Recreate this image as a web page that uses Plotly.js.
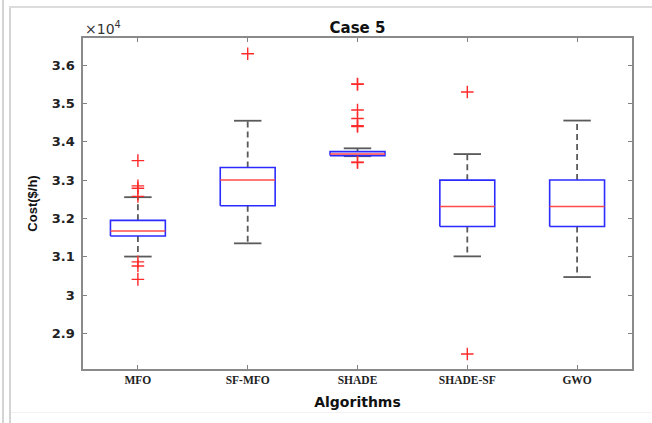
<!DOCTYPE html>
<html>
<head>
<meta charset="utf-8">
<script src="https://cdn.plot.ly/plotly-3.0.1.min.js"></script>
<style>
  html, body { margin: 0; padding: 0; background: #ffffff; }
  #wrap { position: relative; width: 652px; height: 423px; overflow: hidden; background: #ffffff; }
  #chart { position: absolute; left: 0; top: 0; width: 652px; height: 423px; }
  .fr { position: absolute; background: #d4d4d4; }
</style>
</head>
<body>
<div id="wrap">
  <div class="fr" style="left:2px;top:0;width:2px;height:423px;"></div>
  <div class="fr" style="left:9px;top:7px;width:2px;height:416px;"></div>
  <div class="fr" style="left:9px;top:6px;width:643px;height:2px;background:#dcdcdc;"></div>
  <div class="fr" style="left:11px;top:412px;width:641px;height:1px;background:#f2f2f2;"></div>
  <div id="chart"></div>
</div>
<script>
// ---- data (Cost in $/h) ----
const algorithms = ['MFO', 'SF-MFO', 'SHADE', 'SHADE-SF', 'GWO'];
const q1Values     = [31540, 32330, 33640, 31790, 31790];
const medianValues = [31670, 33005, 33680, 32310, 32310];
const q3Values     = [31950, 33330, 33745, 33000, 33005];
const lowerWhisker = [31005, 31350, 33625, 31010, 30470];
const upperWhisker = [32555, 34550, 33830, 33680, 34555];
const outliersMFO     = [33510, 32850, 32790, 32575, 30865, 30760, 30410];
const outliersSFMFO   = [36300];
const outliersSHADE   = [35500, 35510, 34830, 34610, 34400, 34420, 33470, 33460];
const outliersSHADESF = [35300, 28460];
const outliersGWO     = [];
const yTickValues = [29000, 30000, 31000, 32000, 33000, 34000, 35000, 36000];
const yTickLabels = ['2.9', '3', '3.1', '3.2', '3.3', '3.4', '3.5', '3.6'];

const outlierSets = [outliersMFO, outliersSFMFO, outliersSHADE, outliersSHADESF, outliersGWO];
const BOX_HALF = 0.25, CAP_HALF = 0.125;

const boxX = [], boxY = [], medX = [], medY = [], whX = [], whY = [], capX = [], capY = [], outX = [], outY = [];
algorithms.forEach((name, i) => {
  const c = i + 1;
  boxX.push(c - BOX_HALF, c + BOX_HALF, c + BOX_HALF, c - BOX_HALF, c - BOX_HALF, null);
  boxY.push(q1Values[i], q1Values[i], q3Values[i], q3Values[i], q1Values[i], null);
  medX.push(c - BOX_HALF, c + BOX_HALF, null);
  medY.push(medianValues[i], medianValues[i], null);
  whX.push(c, c, null, c, c, null);
  whY.push(q3Values[i], upperWhisker[i], null, q1Values[i], lowerWhisker[i], null);
  capX.push(c - CAP_HALF, c + CAP_HALF, null, c - CAP_HALF, c + CAP_HALF, null);
  capY.push(upperWhisker[i], upperWhisker[i], null, lowerWhisker[i], lowerWhisker[i], null);
  outlierSets[i].forEach(v => { outX.push(c); outY.push(v); });
});

const traces = [
  { type: 'scatter', mode: 'lines', x: whX, y: whY, line: { color: '#5a5a5a', width: 1.8, dash: '6px,4px' }, hoverinfo: 'skip' },
  { type: 'scatter', mode: 'lines', x: capX, y: capY, line: { color: '#5a5a5a', width: 1.8 }, hoverinfo: 'skip' },
  { type: 'scatter', mode: 'lines', x: boxX, y: boxY, line: { color: '#2b2bff', width: 1.6 }, hoverinfo: 'skip' },
  { type: 'scatter', mode: 'lines', x: medX, y: medY, line: { color: '#ff4a4a', width: 1.5 }, hoverinfo: 'skip' },
  { type: 'scatter', mode: 'markers', x: outX, y: outY,
    marker: { symbol: 'cross-thin', size: 9, line: { color: '#ff2a2a', width: 1.4 } }, hoverinfo: 'skip' }
];

const layout = {
  width: 652, height: 423,
  margin: { l: 83, r: 20, t: 38, b: 54 },
  paper_bgcolor: 'rgba(0,0,0,0)',
  plot_bgcolor: '#ffffff',
  showlegend: false,
  title: {
    text: 'Case 5',
    font: { family: 'DejaVu Sans', size: 15, weight: 'bold', color: '#111' },
    xref: 'paper', x: 0.5, xanchor: 'center',
    yref: 'container', y: 1 - 27.7 / 423, yanchor: 'middle'
  },
  xaxis: {
    range: [0.5, 5.5],
    tickmode: 'array', tickvals: [1, 2, 3, 4, 5], ticktext: algorithms,
    ticks: 'inside', ticklen: 4, tickwidth: 1, tickcolor: '#808080',
    showline: true, linecolor: '#8a8a8a', linewidth: 1.6, mirror: 'allticks',
    showgrid: false, zeroline: false,
    ticklabelstandoff: 0,
    tickfont: { family: 'Liberation Serif', size: 11.5, weight: 'bold', color: '#222' },
    title: { text: 'Algorithms', standoff: 12,
      font: { family: 'DejaVu Sans', size: 14, weight: 'bold', color: '#111' } }
  },
  yaxis: {
    range: [28070, 36710],
    tickmode: 'array', tickvals: yTickValues, ticktext: yTickLabels,
    ticks: 'inside', ticklen: 4, tickwidth: 1, tickcolor: '#808080',
    showline: true, linecolor: '#8a8a8a', linewidth: 1.6, mirror: 'allticks',
    showgrid: false, zeroline: false,
    ticklabelstandoff: 4,
    tickfont: { family: 'DejaVu Sans', size: 13, weight: 'bold', color: '#222' },
    title: { text: 'Cost($/h)', standoff: 11,
      font: { family: 'Liberation Sans', size: 13, weight: 'bold', color: '#111' } }
  },
  annotations: [{
    text: '×10<sup>4</sup>', xref: 'paper', yref: 'paper', x: 0, y: 1,
    xanchor: 'left', yanchor: 'bottom', xshift: 0, yshift: -1, showarrow: false,
    font: { family: 'DejaVu Sans', size: 14, color: '#333' }
  }]
};

Plotly.newPlot('chart', traces, layout, { displayModeBar: false, staticPlot: true });
</script>
</body>
</html>
